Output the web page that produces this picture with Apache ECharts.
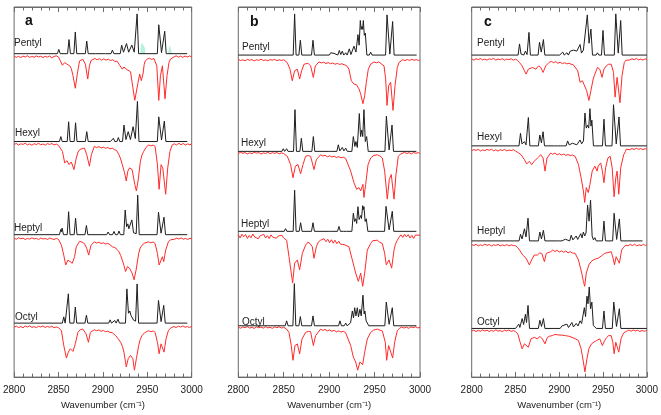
<!DOCTYPE html>
<html><head><meta charset="utf-8">
<script src="https://cdn.jsdelivr.net/npm/echarts@6/dist/echarts.min.js"></script>
<style>html,body{margin:0;padding:0;background:#fff}#c{width:661px;height:415px}</style>
</head><body><div id="c"></div>
<script>
// ---------- tick labels / categories ----------
const xTicks = [2800, 2850, 2900, 2950, 3000];
const samples = ['Pentyl', 'Hexyl', 'Heptyl', 'Octyl'];
const panelLetters = ['a', 'b', 'c'];
const axisTitle = 'Wavenumber (cm\u207B\u00B9)';

// ---------- panel a : calculated spectra (wavenumber, intensity) ----------
const aPentylCalc = [[2800,0],[2848.7,0],[2850.3,4.3],[2851.9,0],[2860.2,0],[2861.8,14.3],[2863.4,0],[2867.3,0],[2868.9,22],[2870.5,0],[2880.2,0],[2881.8,12.7],[2883.4,0],[2891.4,0],[2892.9,1.7],[2894.4,0],[2899.9,0],[2901.4,1.7],[2902.9,0],[2909.1,0],[2910.7,3.7],[2912.3,0],[2919.5,0],[2921.1,8.7],[2923.2,1.5],[2926.6,10.3],[2929,1.5],[2932.6,8.7],[2935.3,1.5],[2938.5,40.3],[2940.2,0],[2961.3,0],[2962.9,29.3],[2966,1],[2969.6,22.7],[2971.3,0],[2995,0]];
const aPentylShade = [[2942,0],[2942.8,8],[2944,11],[2946,11],[2947.2,6],[2947.8,0],[2973.4,0],[2974.2,6],[2975.5,8.3],[2977,7],[2977.8,0]];
const aHexylCalc = [[2800,0],[2851,0],[2852.6,5],[2854.2,0],[2859.8,0],[2861.4,20],[2863,0],[2867.6,0],[2869.2,19],[2870.8,0],[2880.2,0],[2881.8,10],[2883.4,0],[2905.5,0],[2907,1.7],[2908.5,0],[2910.2,0],[2911.8,3.3],[2913.4,0],[2915.8,0],[2917.4,4],[2919,0],[2922.1,0],[2923.7,16.7],[2926,2],[2928.5,10],[2931,2],[2934,15],[2936.5,3],[2938.9,40.7],[2940.6,0],[2961.3,0],[2962.9,25],[2966,1.5],[2969.2,20.7],[2970.9,0],[2995,0]];
const aHeptylCalc = [[2800,0],[2851,0],[2852.6,5.3],[2853.3,3],[2854,6.7],[2855.6,0],[2859.8,0],[2861.4,23.3],[2863,0],[2867.6,0],[2869.2,16.7],[2870.8,0],[2879.8,0],[2881.4,9.3],[2883,0],[2904.3,0],[2905.9,2.7],[2907.5,0],[2910.9,0],[2912.5,3.3],[2914.1,0],[2916.5,0],[2918.1,3.7],[2919.7,0],[2923.5,0],[2925.1,25],[2926.7,8],[2928.1,11],[2929.2,6],[2930,7.7],[2931,5],[2932.6,15],[2934.5,2],[2937.5,1],[2939.2,40],[2940.9,0],[2961,0],[2962.6,22.7],[2965.5,1.5],[2968.8,17.7],[2970.5,0],[2995,0]];
const aOctylCalc = [[2800,0],[2854.3,0],[2855.9,6.3],[2857.5,0],[2859.5,0],[2861.1,29.7],[2862.7,0],[2867.3,0],[2868.9,16.3],[2870.5,0],[2879.8,0],[2881.4,8],[2883,0],[2906.5,0],[2908.1,3.3],[2909.7,0],[2911.7,0],[2913.3,2.7],[2914.9,0],[2915.6,0],[2917,4],[2918.6,0],[2925.4,0],[2927,34.7],[2928.8,10],[2930.3,12.3],[2931.5,8],[2932.9,9],[2934.5,3],[2936.8,2],[2938.5,39.7],[2940.2,0],[2961,0],[2962.6,23],[2965.5,1.5],[2968.5,18],[2970.2,0],[2995,0]];

// ---------- panel a : measured spectra ----------
const aPentylExp = [[2800,0.5],[2802.5,-0.7],[2805,0.3],[2807.5,-1],[2810,0.6],[2812.5,-0.4],[2815,0.9],[2817.5,-0.8],[2820,0.2],[2822.5,-0.6],[2825,0.7],[2827.5,-0.3],[2830,0.4],[2832.5,-0.9],[2835,0.3],[2837.5,-0.5],[2840,0.6],[2842.5,-1.1],[2845,0.2],[2847.5,0.8],[2850,-0.4],[2851.4,-1.5],[2854.4,-8.7],[2857,-6],[2859.6,-7.7],[2862.6,-9.3],[2864.4,-12],[2866.3,-19.3],[2868.9,-32],[2871.1,-17.7],[2873.7,-4.3],[2875.5,-3],[2877.4,-2.7],[2880.3,-7.7],[2882.9,-22.7],[2884.8,-9.3],[2886.6,-4],[2888.5,-2.7],[2891,-1.8],[2893.5,-3.2],[2896,-2],[2898.5,-3.5],[2901,-2.2],[2903.5,-3.6],[2906,-2.5],[2908.5,-4],[2911,-3.2],[2913.5,-4.8],[2916,-4.6],[2918.1,-7.7],[2920,-9],[2921.8,-12.7],[2923.7,-10.5],[2925.5,-11.5],[2927,-13],[2928.5,-14.3],[2931.1,-15.3],[2933.7,-31],[2935.9,-44.3],[2937.7,-42.7],[2939.6,-26],[2941.4,-17.7],[2943.3,-24.3],[2945.1,-17.7],[2946.5,-8],[2947.7,-4.3],[2950,-2.5],[2952.5,-1.6],[2955,-2.8],[2957.5,-1.9],[2958.8,-2.7],[2960.7,-9.3],[2962.9,-44.3],[2964.8,-19.3],[2967,-9.3],[2969.96,-42.7],[2972.2,-19.3],[2974.4,-6],[2976,-2.5],[2977.5,-1],[2980,-0.3],[2982.5,0.8],[2985,-0.6],[2987.5,0.5],[2990,-0.8],[2992.5,0.6],[2995,-0.4],[2997.5,0.7],[3000,-0.2]];
const aHexylExp = [[2800,-0.3],[2802.5,0.8],[2805,-0.9],[2807.5,0.4],[2810,-0.2],[2812.5,1],[2815,-0.7],[2817.5,0.3],[2820,-1.1],[2822.5,0.5],[2825,-0.4],[2827.5,0.9],[2830,-0.6],[2832.5,0.2],[2835,-1],[2837.5,0.6],[2840,-0.3],[2842.5,0.7],[2845,-0.8],[2847.5,0.1],[2850,-1.2],[2852,-3],[2854.4,-7.3],[2857,-19],[2859.6,-16.7],[2861.8,-20.7],[2864.4,-18],[2867.4,-25.7],[2870,-14],[2872,-8],[2873.7,-5.7],[2876.5,-4.5],[2879.2,-4],[2881.8,-10.7],[2884.8,-22.3],[2887,-10.7],[2890.3,-2.3],[2893,-3.5],[2895.5,-2.4],[2898,-3.8],[2900.5,-3],[2903,-4.2],[2905.5,-3.3],[2908,-4.8],[2910.5,-4],[2913,-5.5],[2915.5,-6.5],[2918.1,-10.7],[2920,-15],[2921.8,-20.7],[2924.4,-29],[2926.3,-37.3],[2928.1,-27.3],[2930,-24],[2932.9,-25.7],[2935.9,-40.7],[2937.7,-47.3],[2939.6,-37.3],[2942.2,-17.3],[2944,-11],[2945.9,-7.3],[2948.5,-3.5],[2951.4,-0.7],[2954,-1.8],[2956.5,-0.9],[2958.8,-2.3],[2961.4,-20.7],[2963.3,-45.7],[2965.5,-20.7],[2967.4,-24],[2970.7,-50.7],[2973,-24],[2975.5,-7.3],[2978.1,-0.7],[2980.5,0.4],[2983,-0.8],[2985.5,0.9],[2988,-0.5],[2990.5,0.7],[2993,-0.9],[2995.5,0.3],[2998,-0.6],[3000,0.5]];
const aHeptylExp = [[2800,0.4],[2802.5,-0.6],[2805,0.9],[2807.5,-0.2],[2810,0.5],[2812.5,-0.9],[2815,0.2],[2817.5,-0.5],[2820,0.8],[2822.5,-0.3],[2825,0.3],[2827.5,-1],[2830,0.6],[2832.5,-0.4],[2835,0.1],[2837.5,-0.8],[2840,0.5],[2842.5,-0.2],[2845,-0.9],[2847.5,0.3],[2850,-0.8],[2851.5,-2.5],[2853.3,-6.7],[2855.9,-16.7],[2858.1,-26.7],[2860.7,-21.7],[2862.6,-20],[2865.5,-25],[2868.1,-18.3],[2870,-8.3],[2873.7,-2.7],[2876.5,-3.5],[2879.2,-5],[2881.8,-10],[2884,-16.7],[2886.6,-6.7],[2890.3,-3.3],[2893,-4.5],[2895.5,-3.6],[2898,-5],[2900.5,-4.2],[2903,-5.5],[2905.5,-4.8],[2908,-6.2],[2910.7,-8.3],[2913.5,-9],[2916,-11],[2918.1,-13.3],[2920,-17],[2921.8,-21.7],[2923.7,-27],[2925.5,-33.3],[2927.7,-28.3],[2930,-30],[2932.9,-35],[2935.1,-41.7],[2937.4,-31.7],[2940.3,-15],[2942,-9.5],[2944,-6.7],[2947,-4.5],[2951.4,-3.3],[2954,-4.3],[2956.5,-3.4],[2958.8,-5],[2961.4,-15],[2963.3,-26.7],[2965.5,-21.7],[2967,-18.3],[2968.5,-23.3],[2970.7,-11.7],[2973.7,-3.3],[2976,-1.2],[2978,0.2],[2980.5,-0.7],[2983,0.5],[2985.5,-0.4],[2988,0.8],[2990.5,-0.6],[2993,0.2],[2995.5,-0.9],[2998,0.4],[3000,-0.3]];
const aOctylExp = [[2800,-0.5],[2802.5,0.6],[2805,-0.8],[2807.5,0.2],[2810,-1],[2812.5,0.7],[2815,-0.3],[2817.5,0.9],[2820,-0.6],[2822.5,0.1],[2825,-0.9],[2827.5,0.5],[2830,-0.2],[2832.5,0.8],[2835,-0.7],[2837.5,0.3],[2840,-0.5],[2842.5,0.6],[2845,-1],[2847.5,-0.2],[2850,-0.9],[2851.8,-2],[2853.3,-4],[2855.9,-19],[2858.9,-31.7],[2861.1,-25.7],[2863.3,-22.3],[2866.3,-25],[2868.9,-17.3],[2871.8,-5.7],[2874.5,-3],[2877.4,-2.3],[2881.1,-7.3],[2883.7,-15.7],[2885.9,-5.7],[2890.3,-3],[2893,-4],[2895.5,-3.2],[2898,-4.6],[2900.5,-3.8],[2903,-5],[2905.5,-4.4],[2908,-5.8],[2910.5,-6],[2912.5,-7.5],[2914.4,-9],[2917,-12],[2920,-15.7],[2922,-20],[2923.7,-25.7],[2926.3,-40.7],[2928.5,-32.3],[2931.1,-29],[2933.7,-32.3],[2935.5,-44],[2937.7,-32.3],[2940.3,-19],[2942,-13],[2944,-9],[2947,-6],[2951.4,-4],[2954,-5],[2956.5,-4.2],[2958.8,-5.7],[2961.4,-15.7],[2963.3,-27.3],[2965.5,-17.3],[2967,-19],[2968.8,-25.7],[2971.1,-12.3],[2973.7,-4],[2976,-1.5],[2977.4,-0.7],[2980,0.3],[2982.5,-0.8],[2985,0.6],[2987.5,-0.3],[2990,0.9],[2992.5,-0.5],[2995,0.2],[2997.5,-0.8],[3000,0.4]];

// ---------- panel b : calculated spectra ----------
const bPentylCalc = [[2800,0],[2851.5,0],[2853,2],[2854.5,0],[2860.4,0],[2862,41.7],[2863.6,0],[2866.7,0],[2868.3,15],[2869.9,0],[2880.6,0],[2882.2,15],[2883.8,0],[2900.2,0],[2901.7,2.3],[2903.2,0.5],[2905.3,1.7],[2907,0],[2909.6,0],[2911.2,4.7],[2912.8,0.5],[2914.5,4],[2916.1,0],[2916.6,0],[2918.2,2.3],[2919.8,0],[2920.6,0],[2922.2,6.3],[2924,0.5],[2927.3,9],[2929.5,3],[2931.7,20.7],[2933,10],[2934.3,35],[2935.2,26],[2936.1,29],[2936.9,26],[2937.6,35],[2938.7,20],[2939.8,22.3],[2941.5,0],[2944.2,0],[2945.7,3],[2947.2,0],[2962.1,0],[2963.7,40.7],[2966.8,1],[2969.9,34],[2971.5,0],[2996.3,0]];
const bHexylCalc = [[2800,0],[2848,0],[2849.5,2.7],[2851,0],[2851.7,0],[2853.2,2.7],[2854.7,0],[2860.8,0],[2862.4,42.3],[2864,0],[2867.8,0],[2869.4,13.3],[2871,0],[2881,0],[2882.6,15],[2884.2,0],[2900.2,0],[2901.7,1],[2903.2,0],[2908.5,0],[2910.1,6.7],[2911.8,0.5],[2914.5,4],[2916.2,0.5],[2918.2,3.3],[2920,0],[2925,0],[2926.6,15],[2928.3,5],[2929.5,10],[2931,4],[2933.2,38.3],[2934.6,15],[2935.8,21.7],[2937,15],[2938.3,42.3],[2939.8,10],[2941.3,15],[2943,0],[2961.4,0],[2963,35.7],[2966,1.5],[2969.2,26.7],[2970.8,0],[2996,0]];
const bHeptylCalc = [[2800,0],[2850.5,0],[2852,2.7],[2853.5,0],[2860.4,0],[2862,41.7],[2863.6,0],[2867,0],[2868.6,8.7],[2870.2,0],[2880.6,0],[2882.2,8.7],[2883.8,0],[2900.2,0],[2901.7,1.3],[2903.2,0],[2909.2,0],[2910.8,5],[2912.4,0],[2915.8,0],[2917.4,1.7],[2919,0],[2925,0],[2926.6,18.3],[2928,10],[2929.2,12.7],[2930.3,8],[2931.7,25],[2933,12],[2934.7,16],[2935.6,13],[2936.9,26],[2937.6,22],[2938.3,25],[2939.6,10],[2940.9,12.7],[2942.6,0],[2961,0],[2962.6,25.3],[2966,1.5],[2969.5,20.3],[2971.1,0],[2996,0]];
const bOctylCalc = [[2800,0],[2851.6,0],[2853.2,5],[2854.8,0],[2860.1,0],[2861.7,42.7],[2863.3,0],[2866.7,0],[2868.3,9.3],[2869.9,0],[2880.6,0],[2882.2,10],[2883.8,0],[2900.2,0],[2901.7,1.7],[2903.2,0],[2910.3,0],[2911.9,5],[2913.5,0],[2916.6,0],[2918.2,2.7],[2919.8,0],[2922,0],[2923.6,3],[2924.4,1.5],[2925.5,15],[2926.8,8],[2928.1,18.3],[2929.5,10],[2931,18.3],[2932.3,9],[2933.9,16.7],[2935.3,10],[2937.2,31],[2938.5,12],[2939.4,15],[2940.7,5],[2942,6.7],[2943.6,0],[2961.3,0],[2962.9,24],[2966,1.5],[2969.5,18.3],[2971.1,0],[2996,0]];

// ---------- panel b : measured spectra ----------
const bPentylExp = [[2800,0.6],[2802.5,-0.5],[2805,0.2],[2807.5,-0.9],[2810,0.7],[2812.5,-0.3],[2815,0.5],[2817.5,-1],[2820,0.3],[2822.5,-0.4],[2825,0.8],[2827.5,-0.6],[2830,0.1],[2832.5,-0.8],[2835,0.4],[2837.5,-0.2],[2840,0.7],[2842.5,-0.7],[2845,0.2],[2847.5,-0.5],[2850,0.3],[2852,-1],[2853.9,-2.7],[2856.9,-9.3],[2859.4,-21],[2862,-11],[2865,-9.3],[2867.5,-19.3],[2869.7,-11],[2872.3,-4.3],[2874.5,-3],[2876.7,-3.3],[2879.6,-6],[2882.6,-17.7],[2884.8,-6],[2888.8,-2],[2891.5,-3],[2894,-2.2],[2896.5,-3.6],[2899,-2.6],[2901.5,-3.8],[2904,-3],[2906.5,-4.3],[2909,-3.5],[2911.5,-4.5],[2914,-3.8],[2916.5,-4.8],[2919,-5.5],[2921.8,-9.3],[2924.4,-21],[2927.3,-24.3],[2930.3,-25.3],[2932.8,-29.3],[2934.7,-34.3],[2937.2,-44.3],[2939.1,-36],[2940.9,-22.7],[2943.1,-9.3],[2945.7,-4.3],[2949.4,-2],[2952,-2.8],[2954.5,-1.9],[2956.7,-2.7],[2960.4,-6],[2962.2,-19.3],[2963.7,-46],[2965.5,-26],[2967.7,-22.7],[2970.3,-51],[2972.5,-26],[2975,-7.7],[2977,-2.5],[2978.7,-1],[2981,0.3],[2983.5,-0.6],[2986,0.5],[2988.5,-0.4],[2991,0.7],[2993.5,-0.3],[2996,0.4],[2998.5,-0.6],[3000,0.2]];
const bHexylExp = [[2800,-0.4],[2802.5,0.7],[2805,-0.2],[2807.5,0.5],[2810,-0.9],[2812.5,0.3],[2815,-0.6],[2817.5,0.8],[2820,-0.1],[2822.5,0.6],[2825,-1],[2827.5,0.2],[2830,-0.5],[2832.5,0.9],[2835,-0.7],[2837.5,0.4],[2840,-0.3],[2842.5,0.6],[2845,-0.8],[2847.5,0.2],[2850,-0.6],[2852,-1.5],[2853.9,-3.3],[2857.6,-11.7],[2860.2,-25],[2862.8,-13.3],[2865.7,-11.7],[2868.6,-21],[2871.2,-11.7],[2874.1,-3.3],[2877,-2.5],[2879.6,-3.3],[2883.3,-16.7],[2885.9,-6.7],[2890.6,-1.7],[2893,-3],[2895.5,-2.2],[2898,-3.8],[2900.5,-2.8],[2903,-4],[2905.5,-3.2],[2908,-4.5],[2910.5,-3.6],[2913,-4.8],[2915.5,-4.2],[2918,-5.2],[2920,-6.7],[2923.7,-18.3],[2927.3,-30],[2930.3,-36.7],[2932.8,-35],[2934.7,-38.3],[2937.2,-31.7],[2938.3,-45],[2940.2,-31.7],[2942.8,-11.7],[2945.7,-5],[2949,-2.5],[2953,-1.7],[2956,-3],[2958.5,-5],[2961.1,-18.3],[2964,-46.7],[2966.2,-26.7],[2968.4,-21.7],[2971.4,-46.7],[2973.6,-21.7],[2976.1,-3.3],[2978.5,-1],[2980.6,0],[2983,0.7],[2985.5,-0.5],[2988,0.4],[2990.5,-0.8],[2993,0.6],[2995.5,-0.3],[2998,0.5],[3000,-0.4]];
const bHeptylExp = [[2800,1.5],[2802,-1.8],[2804,2],[2806,-0.5],[2808,1.8],[2810,-2.2],[2812,0.8],[2814,-1.5],[2816,2.3],[2818,-0.8],[2820,1.2],[2822,-2.5],[2824,0.5],[2826,-1.2],[2828,1.9],[2830,-1.7],[2832,0.6],[2834,-2.3],[2836,1.4],[2838,-0.9],[2840,1.1],[2842,-2],[2844,0.3],[2846,-1.4],[2848,1],[2850,-1.8],[2851.5,-2],[2853.2,-4],[2855.8,-20.7],[2858.3,-37.3],[2859.8,-47.3],[2862,-27.3],[2865,-24],[2867.5,-34],[2870.5,-17.3],[2874.1,-9],[2876.5,-6],[2878.9,-7.3],[2881.5,-10.7],[2883.3,-22.3],[2885.9,-10.7],[2888,-6],[2890.6,-4],[2892.5,-6],[2894.5,-2.5],[2896.5,-5.5],[2898.5,-3],[2900.5,-6.5],[2902.5,-3.5],[2904.5,-7],[2906.5,-4],[2908.5,-7.5],[2910.5,-5],[2912.5,-8],[2914.5,-6],[2916.5,-8.5],[2918.5,-7],[2921.8,-10.7],[2925.5,-24],[2929.2,-37.3],[2932.1,-45.7],[2934.7,-37.3],[2936.9,-50.7],[2939.1,-37.3],[2942,-14],[2945.7,-7.3],[2948,-4.5],[2950,-6],[2953,-4],[2955.5,-6],[2958.5,-7.3],[2961.1,-17.3],[2962.9,-29],[2965.9,-24],[2968.8,-32.3],[2971.4,-14],[2973,-8],[2975,-4],[2977,-1],[2979,1.5],[2981,-1.2],[2983,2],[2985,-0.6],[2987,1.7],[2989,-1.8],[2991,0.9],[2993,-2.2],[2995,1.3],[2997,-0.7],[3000,1]];
const bOctylExp = [[2800,0.3],[2802.5,-0.8],[2805,0.5],[2807.5,-0.2],[2810,0.9],[2812.5,-0.6],[2815,0.2],[2817.5,-1],[2820,0.6],[2822.5,-0.3],[2825,0.4],[2827.5,-0.7],[2830,0.8],[2832.5,-0.4],[2835,0.1],[2837.5,-0.9],[2840,0.5],[2842.5,-0.2],[2845,0.7],[2847.5,-0.6],[2850,0.2],[2853,-1.5],[2855.8,-5],[2858.3,-18.3],[2860.2,-33.3],[2862.4,-18.3],[2865,-16.7],[2867.5,-26.7],[2870.1,-11.7],[2874.1,-5],[2877,-4],[2879.6,-4.3],[2882.6,-18.3],[2885.1,-8.3],[2890.6,-1.7],[2893,-3],[2895.5,-2],[2898,-3.5],[2900.5,-2.5],[2903,-3.8],[2905.5,-3],[2908,-4.4],[2910.5,-3.5],[2913,-4.6],[2915.5,-4],[2918,-5],[2920,-6.7],[2923.7,-18.3],[2926.6,-30],[2929.2,-35],[2931.4,-43.3],[2933.9,-35],[2936.9,-37.7],[2939.1,-25],[2942,-11.7],[2945.7,-5],[2949,-2.6],[2953,-1.7],[2956,-2.8],[2958.5,-3.5],[2960.4,-5],[2961.8,-15],[2963.3,-33.3],[2965.5,-18.3],[2967.7,-20],[2969.9,-31],[2972.1,-15],[2975,-3.3],[2977.5,-0.8],[2980,0.5],[2982.5,-0.6],[2985,0.3],[2987.5,-0.9],[2990,0.6],[2992.5,-0.2],[2995,0.7],[2997.5,-0.5],[3000,0.2]];

// ---------- panel c : calculated spectra ----------
const cPentylCalc = [[2800,0],[2853,0],[2854.6,11.3],[2856.3,1],[2859.5,0],[2861.3,4],[2863.2,0.5],[2865.4,23],[2867,0],[2875.8,0],[2877.4,13],[2879.4,3],[2881.9,15.7],[2883.5,0],[2897,0],[2898.7,1.7],[2900.4,0],[2902.3,0],[2904,3],[2905.7,0],[2907.2,0],[2908.8,2.3],[2910.4,0],[2911,0],[2912.5,4],[2914.2,2],[2916.3,5],[2918,3],[2920,4],[2922,3],[2923.7,10.7],[2925.3,2],[2927.5,5],[2929.5,3],[2932,40.7],[2934,12],[2936.1,26.3],[2937.9,0],[2942,0],[2943.6,2.3],[2945.2,0],[2948.2,0],[2949.9,25],[2951.6,0],[2962.8,0],[2964.5,41.7],[2967.3,2],[2970.1,35],[2971.8,0],[3000,0]];
const cHexylCalc = [[2800,0],[2854,0],[2855.7,12.7],[2857.4,2],[2858.6,1],[2860.2,4.3],[2862,1],[2864.7,28.7],[2866.4,0],[2876.1,0],[2877.8,11],[2879.6,3],[2881.5,14.3],[2883.1,0],[2894.5,0],[2896.4,1],[2898.2,0],[2901,0],[2903.1,1.7],[2905,0],[2907.8,0],[2909.5,5],[2911.3,1],[2913,1],[2915.1,2.7],[2917.2,1],[2920,1],[2922,3],[2923.7,6],[2925.5,2],[2927.6,5],[2929.3,33.3],[2930.8,18],[2932.3,21],[2933.6,18],[2935,37.7],[2936.2,20],[2937.2,26],[2939,0],[2941.5,0],[2943.6,1.7],[2945.5,0],[2949.3,0],[2951,27],[2952.7,0],[2960.2,0],[2961.9,41.7],[2965,2],[2968.2,29.3],[2969.9,0],[3000,0]];
const cHeptylCalc = [[2800,0],[2854,0],[2855.7,6.7],[2857.5,2],[2860.2,12.3],[2862,4],[2864.3,23],[2866,0],[2876.1,0],[2877.8,9],[2879.6,2],[2881.9,10.7],[2883.6,0],[2899.4,0],[2901.3,1.3],[2903,0],[2904.8,0],[2906.9,1.7],[2909,0],[2911.9,0],[2913.6,5.7],[2915.5,1],[2917.5,1],[2919.3,5],[2921,1.5],[2922.8,2],[2924.5,7.3],[2926,3],[2927.5,9],[2929,5],[2930.5,8],[2932.3,36.3],[2934,20],[2935.7,41.3],[2937.5,5],[2939,1],[2940.6,3.3],[2942.2,0],[2949.3,0],[2951,20],[2952.7,0],[2960.9,0],[2962.6,28],[2965.5,1.5],[2968.6,22.3],[2970.3,0],[2995,0]];
const cOctylCalc = [[2800,0],[2850,0],[2850.8,1.7],[2852,0.5],[2853.8,4.3],[2855,1],[2857.6,10],[2859.3,4],[2861.3,14.3],[2862.6,6],[2864.3,23.3],[2866,0],[2876.1,0],[2877.8,8.3],[2879.7,2],[2881.9,10],[2883.6,0],[2901,0],[2903.2,2.7],[2905,1],[2908.8,4.3],[2910.5,1],[2914.4,6],[2916.2,1.5],[2919.3,5],[2921.4,2.5],[2923.7,7.7],[2925.5,5],[2928.6,21],[2930,12],[2931.6,32.7],[2932.8,25],[2934.2,42],[2935.7,20],[2937.2,26.7],[2938.9,3],[2940.6,4.3],[2942.3,0],[2949.3,0],[2951,17.7],[2952.7,0],[2960.5,0],[2962.2,26.7],[2965.3,2],[2968.6,20],[2970.3,0],[3000,0]];

// ---------- panel c : measured spectra ----------
const cPentylExp = [[2800,0.4],[2802.5,-0.9],[2805,0.6],[2807.5,-0.3],[2810,0.8],[2812.5,-0.6],[2815,0.2],[2817.5,-0.8],[2820,0.5],[2822.5,-0.1],[2825,0.9],[2827.5,-0.7],[2830,0.3],[2832.5,-0.5],[2835,0.7],[2837.5,-0.9],[2840,0.2],[2842.5,-0.4],[2845,0.6],[2847.5,-0.8],[2850,0.1],[2852.5,-1.2],[2854.6,-3.3],[2857.6,-6.7],[2860.2,-11.7],[2862.1,-15],[2864.7,-10],[2866.9,-11.7],[2869.5,-8.3],[2871.5,-9],[2873.3,-10],[2876.3,-6.7],[2878.9,-8.3],[2881.5,-13.3],[2884.5,-6.7],[2888.2,-3.3],[2891,-2],[2893.5,-3.5],[2896,-2.4],[2898.5,-4],[2901,-3],[2903.5,-4.4],[2906,-3.4],[2908.5,-4.6],[2911,-4],[2913.5,-5],[2916,-5.5],[2918.1,-6.7],[2921.1,-11.7],[2923.7,-23.3],[2926.4,-21.7],[2928.6,-23.3],[2931.2,-31.7],[2933.8,-41.7],[2936.1,-31.7],[2938.7,-20],[2940.6,-15],[2943.6,-8.3],[2946.2,-10],[2948.8,-18.3],[2951,-10],[2953.6,-6.7],[2956.3,-5],[2959.3,-5],[2961.9,-13.3],[2963.7,-38.3],[2966,-18.3],[2967.9,-18.3],[2969.3,-44],[2971.6,-16.7],[2974.2,-3.3],[2976,-1],[2978,0],[2980.5,-0.7],[2983,0.6],[2985.5,-0.4],[2988,0.8],[2990.5,-0.6],[2993,0.3],[2995.5,-0.8],[2998,0.5],[3000,-0.2]];
const cHexylExp = [[2800,-0.6],[2802.5,0.5],[2805,-0.3],[2807.5,0.8],[2810,-0.9],[2812.5,0.2],[2815,-0.5],[2817.5,0.7],[2820,-0.2],[2822.5,0.9],[2825,-0.7],[2827.5,0.3],[2830,-1],[2832.5,0.4],[2835,-0.4],[2837.5,0.6],[2840,-0.8],[2842.5,0.1],[2845,-0.6],[2847.5,0.5],[2850,-1],[2853,-2.5],[2856.4,-4.7],[2860.2,-9.7],[2862.8,-14],[2865.8,-11.3],[2868.4,-14.7],[2871.4,-11.3],[2875.1,-8],[2878.9,-4.7],[2881.5,-8],[2883.7,-21.3],[2886,-8],[2890.1,-3],[2892.5,-4.2],[2895,-3],[2897.5,-4.8],[2900,-3.6],[2902.5,-5],[2905,-4],[2907.5,-5.4],[2910,-4.4],[2912.5,-5.6],[2915,-5],[2918.1,-6.3],[2921.9,-14.7],[2924.9,-28],[2927.5,-41.3],[2929,-53],[2930.8,-38],[2933.1,-43],[2935,-34.7],[2937.6,-21.3],[2940.6,-16.3],[2943.2,-21.3],[2944.3,-16.3],[2947.3,-13],[2949.2,-21.3],[2951,-33],[2952.9,-18],[2955.5,-8],[2958.1,-6.3],[2960.4,-18],[2962.6,-47.3],[2964.5,-28],[2966,-21.3],[2967.9,-44.7],[2970.1,-18],[2973.5,-4.7],[2975.5,-1.5],[2976.5,1],[2978,1.3],[2980.5,0.4],[2983,1.6],[2985.5,0.6],[2988,1.8],[2990.5,0.8],[2993,1.5],[2995.5,0.5],[2998,1.4],[3000,0.9]];
const cHeptylExp = [[2800,0.7],[2802.5,-0.4],[2805,0.9],[2807.5,-0.8],[2810,0.3],[2812.5,-0.5],[2815,1],[2817.5,-0.2],[2820,0.6],[2822.5,-0.9],[2825,0.4],[2827.5,-0.3],[2830,0.8],[2832.5,-0.7],[2835,0.2],[2837.5,-0.6],[2840,0.5],[2842.5,-0.8],[2845,0.3],[2847.5,-0.4],[2850,-0.6],[2852.5,-2.5],[2854.6,-5],[2858.3,-10],[2862.1,-13.3],[2865.8,-20],[2868.4,-15],[2871.4,-10],[2875.1,-10],[2877.5,-8],[2880,-8.3],[2883,-16.7],[2885.2,-8.3],[2890.1,-6.7],[2892.5,-5],[2895,-6.5],[2897.5,-5.2],[2900,-7],[2902.5,-5.8],[2905,-7.2],[2907.5,-6],[2910,-7.8],[2912.5,-6.6],[2915,-8],[2918.1,-8.3],[2921.9,-15],[2925.6,-28.3],[2927.5,-36.7],[2929,-41.7],[2930.8,-28.3],[2933.8,-20],[2936,-17],[2938.7,-15],[2941.5,-14],[2944.3,-13.3],[2948,-11],[2951.8,-8.3],[2955.5,-7.5],[2959.3,-6.7],[2961.5,-13.3],[2963,-20],[2964.9,-11.7],[2966.7,-10],[2968.6,-18.3],[2971.2,-5],[2973.5,-2],[2976.1,0],[2978.5,-0.6],[2981,0.7],[2983.5,-0.4],[2986,0.9],[2988.5,-0.7],[2991,0.4],[2993.5,-0.5],[2996,0.8],[2998.5,-0.3],[3000,0.5]];
const cOctylExp = [[2800,-0.3],[2802.5,0.6],[2805,-0.9],[2807.5,0.4],[2810,-0.5],[2812.5,0.8],[2815,-0.2],[2817.5,0.5],[2820,-0.8],[2822.5,0.3],[2825,-0.6],[2827.5,0.9],[2830,-0.4],[2832.5,0.2],[2835,-1],[2837.5,0.6],[2840,-0.3],[2842.5,0.7],[2845,-0.7],[2847.5,0.1],[2850,-0.8],[2852.7,-3.3],[2855.3,-11.7],[2857.6,-18.3],[2860.2,-13.3],[2862.1,-11.7],[2864.7,-16.7],[2867.7,-8.3],[2871.4,-6.7],[2875.1,-8.3],[2877.8,-5.7],[2880.7,-8.3],[2883.7,-13.3],[2886.4,-6.7],[2889,-5.5],[2892,-5],[2895,-3.8],[2899.4,-4.3],[2903,-4.5],[2906.9,-5],[2910.5,-5.5],[2914.4,-6.7],[2918,-8],[2921.9,-10],[2924.9,-18.3],[2927.5,-31.7],[2929.3,-41.7],[2931.6,-28.3],[2933.8,-18.3],[2936.8,-13.3],[2939.5,-11.5],[2942.4,-10],[2946.2,-8.3],[2949.2,-15],[2951.8,-10],[2954,-7],[2956.3,-5],[2959.3,-5],[2961.1,-11.7],[2962.6,-23.3],[2964.5,-11.7],[2966,-11.7],[2967.9,-21.7],[2970.5,-8.3],[2972.5,-4],[2974.2,-1.7],[2977,-0.5],[2979.5,0.6],[2982,-0.5],[2984.5,0.8],[2987,-0.3],[2989.5,0.5],[2992,-0.8],[2994.5,0.3],[2997,-0.6],[3000,0.4]];

// ---------- layout (positions / styles kept separate from data) ----------
const CALC = [[aPentylCalc,aHexylCalc,aHeptylCalc,aOctylCalc],[bPentylCalc,bHexylCalc,bHeptylCalc,bOctylCalc],[cPentylCalc,cHexylCalc,cHeptylCalc,cOctylCalc]];
const EXP = [[aPentylExp,aHexylExp,aHeptylExp,aOctylExp],[bPentylExp,bHexylExp,bHeptylExp,bOctylExp],[cPentylExp,cHexylExp,cHeptylExp,cOctylExp]];
const CALC_OFF = [[327.7,238.7,144.3,54.7],[326.3,228.7,147.7,52],[326.3,234.3,138,49.3]];
const EXP_OFF = [[324.7,236,140.3,51],[321.3,227,142.7,50.3],[322,230,133.7,47]];
const GRID = [{left:11.7,width:180},{left:238.3,width:181.7},{left:471.7,width:178.3}];
const LABEL_POS = [[[14,43],[15,133],[14,228],[15,317]],[[242,47],[241,143],[241,224],[242,322]],[[477,43],[477,137],[477,231],[477,322]]];
const LETTER_POS = [[25,21.5],[250,22.5],[484,22.5]];
const FONT = 'Liberation Sans, Arial, Helvetica, sans-serif';
const FRAME = '#6b6b6b';

const grids = [], xAxes = [], yAxes = [], series = [], graphics = [];
GRID.forEach((g, p) => {
  grids.push({left:g.left, width:g.width, top:7, bottom:33, show:true, borderColor:FRAME, borderWidth:1, backgroundColor:'transparent'});
  const base = {type:'value', gridIndex:p, min:xTicks[0], max:xTicks[xTicks.length-1], interval:xTicks[1]-xTicks[0],
    axisLine:{show:true, onZero:false, lineStyle:{color:FRAME, width:1}},
    axisTick:{show:true, inside:true, length:5, lineStyle:{color:FRAME, width:1}},
    minorTick:{show:true, splitNumber:5, length:3.5, lineStyle:{color:FRAME, width:1}},
    splitLine:{show:false}, minorSplitLine:{show:false}};
  xAxes.push(Object.assign({}, base, {position:'bottom',
    axisLabel:{show:true, fontSize:10, color:'#222', margin:8, fontFamily:FONT, formatter:v => String(v)},
    name:axisTitle, nameLocation:'middle', nameGap:19, nameTextStyle:{fontSize:9.5, color:'#222', fontFamily:FONT}}));
  xAxes.push(Object.assign({}, base, {position:'top', axisLabel:{show:false}}));
  yAxes.push({type:'value', gridIndex:p, min:0, max:375, show:false});

  if (p === 0) {
    series.push({type:'line', xAxisIndex:0, yAxisIndex:0, symbol:'none', silent:true,
      data:aPentylShade.map(d => [d[0], d[1] + CALC_OFF[0][0]]),
      lineStyle:{width:0}, areaStyle:{color:'#b6f0e1', opacity:1, origin:CALC_OFF[0][0]}, z:1});
  }
  for (let i = 0; i < 4; i++) {
    series.push({type:'line', name:samples[i]+' exp '+panelLetters[p], xAxisIndex:2*p, yAxisIndex:p, symbol:'none', silent:true,
      data:EXP[p][i].map(d => [d[0], d[1] + EXP_OFF[p][i]]), lineStyle:{color:'#ff2b2b', width:1}, z:2});
    series.push({type:'line', name:samples[i]+' calc '+panelLetters[p], xAxisIndex:2*p, yAxisIndex:p, symbol:'none', silent:true,
      data:CALC[p][i].map(d => [d[0], d[1] + CALC_OFF[p][i]]), lineStyle:{color:'#1e1e1e', width:1}, z:3});
    graphics.push({type:'text', x:LABEL_POS[p][i][0], y:LABEL_POS[p][i][1],
      style:{text:samples[i], fontSize:10, fontFamily:FONT, fill:'#222', verticalAlign:'middle'}});
  }
  graphics.push({type:'text', x:LETTER_POS[p][0], y:LETTER_POS[p][1],
    style:{text:panelLetters[p], fontSize:14, fontWeight:'bold', fontFamily:FONT, fill:'#111', verticalAlign:'middle'}});
});

const chart = echarts.init(document.getElementById('c'), null, {renderer:'canvas'});
chart.setOption({animation:false, backgroundColor:'#fff', grid:grids, xAxis:xAxes, yAxis:yAxes, series:series, graphic:graphics});
</script></body></html>
